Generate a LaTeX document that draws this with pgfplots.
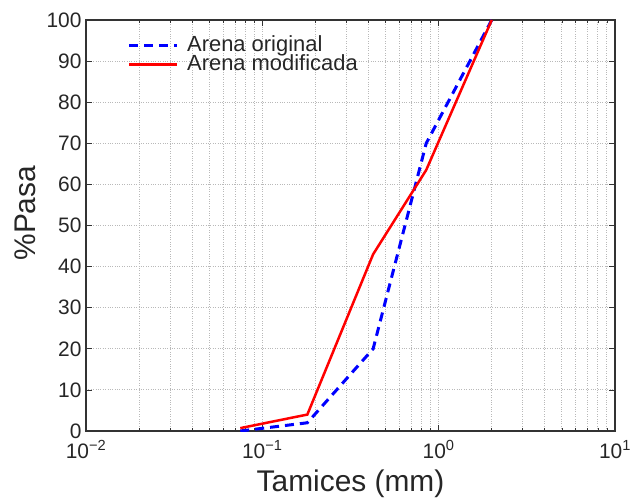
\documentclass[border=0pt]{standalone}
\usepackage{pgfplots}
\pgfplotsset{compat=1.18}
\usepackage{fontspec}
\setmainfont{Liberation Sans}
\begin{document}
\begin{tikzpicture}
\begin{axis}[
  xmode=log, xmin=0.01, xmax=10, ymin=0, ymax=100,
  width=529bp, height=411bp, scale only axis,
  xtick={0.01,0.1,1,10},
  xticklabels={10\textsuperscript{−2},10\textsuperscript{−1},10\textsuperscript{0},10\textsuperscript{1}},
  ytick={0,10,...,100},
  /pgf/number format/assume math mode=true,
  tick label style={font=\fontsize{21}{21}\selectfont, text=black!85},
  xticklabel style={yshift=-6bp},
  yticklabel style={xshift=-1bp},
  tick align=inside,
  major tick length=6bp, minor tick length=3bp,
  tick style={black!80, line width=0.8bp},
  grid=both,
  major grid style={gray!55, dotted, line width=0.9bp},
  minor grid style={gray!55, dotted, line width=0.9bp},
  axis line style={black!80, line width=1.3bp},
  xlabel={Tamices (mm)},
  ylabel={\%Pasa},
  label style={font=\fontsize{30}{30}\selectfont, text=black!85},
  xlabel style={yshift=-5bp},
  ylabel style={at={(ticklabel cs:0.53)}, yshift=4bp},
  legend style={draw=none, fill=none, at={(0.0728,0.967)}, anchor=north west,
    font=\fontsize{22}{22}\selectfont, text=black!85, row sep=0bp, column sep=8bp,
    nodes={inner sep=0.5bp, text height=15bp, text depth=3bp}},
  legend cell align=left,
  legend image code/.code={\draw[#1] (0bp,0bp) -- (48bp,0bp);},
]
\addplot[blue, line width=3bp, dash pattern=on 9bp off 6bp] coordinates {
  (0.075,0) (0.18,2) (0.425,20) (0.85,70) (2,100)
};
\addlegendentry{Arena original}
\addplot[red, line width=2.5bp] coordinates {
  (0.075,0.7) (0.18,4) (0.425,43) (0.85,63.5) (2,100)
};
\addlegendentry{Arena modificada}
\end{axis}
\path ([xshift=-86bp,yshift=-71bp]current axis.south west) rectangle ([xshift=24bp,yshift=20bp]current axis.north east);
\end{tikzpicture}
\end{document}
